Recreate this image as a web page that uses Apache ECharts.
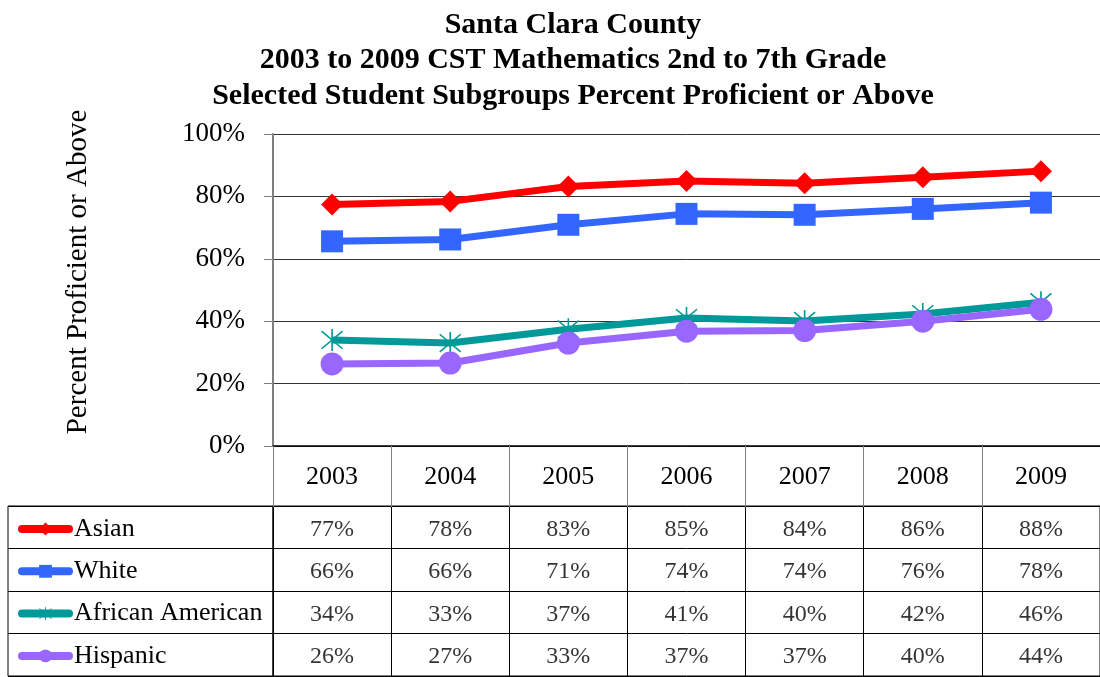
<!DOCTYPE html>
<html>
<head>
<meta charset="utf-8">
<script src="https://cdn.jsdelivr.net/npm/echarts@6/dist/echarts.min.js"></script>
<style>
  html, body { margin: 0; padding: 0; background: #fff; }
  #chart { width: 1100px; height: 677px; }
</style>
</head>
<body>
<div id="chart"></div>
<script>
// Data (percent proficient or above)
const years = ['2003', '2004', '2005', '2006', '2007', '2008', '2009']
const groups = ['Asian', 'White', 'African American', 'Hispanic']
const asian = [77.4, 78.4, 83.2, 84.9, 84.2, 86.1, 88.1]
const white = [65.6, 66.2, 70.9, 74.4, 74.1, 76.0, 78.0]
const africanAmerican = [34.0, 33.0, 37.4, 41.0, 40.1, 42.3, 46.1]
const hispanic = [26.3, 26.6, 33.0, 36.8, 37.0, 40.0, 43.8]

const FONT = '"Liberation Serif", "Times New Roman", serif'

// asterisk marker (vertical bar + X), drawn as thin filled bars
const STAR = 'path://M9.3 0L10.7 0L10.7 20L9.3 20Z' +
  'M1.46 1.48L19.46 17.48L18.54 18.52L0.54 2.52Z' +
  'M19.46 2.52L1.46 18.52L0.54 17.48L18.54 1.48Z'

const seriesConfig = [
  { name: 'Asian', data: asian, color: '#FF0000', symbol: 'diamond', size: [22, 22] },
  { name: 'White', data: white, color: '#3366FF', symbol: 'rect', size: 22 },
  { name: 'African American', data: africanAmerican, color: '#009999', symbol: STAR, size: 22 },
  { name: 'Hispanic', data: hispanic, color: '#9966FF', symbol: 'circle', size: 23 }
]

const rows = [asian, white, africanAmerican, hispanic]
const tableCells = []
rows.forEach((vals, r) => vals.forEach((v, c) => tableCells.push([c, r, v])))

const chart = echarts.init(document.getElementById('chart'))

const option = {
  animation: false,
  backgroundColor: '#fff',
  textStyle: { fontFamily: FONT },
  title: {
    text: 'Santa Clara County\n2003 to 2009 CST Mathematics 2nd to 7th Grade\nSelected Student Subgroups Percent Proficient or Above',
    left: 568,
    textAlign: 'center',
    top: 2,
    textStyle: {
      fontFamily: FONT,
      fontSize: 30,
      fontWeight: 'bold',
      lineHeight: 35.5,
      color: '#000'
    }
  },
  legend: {
    orient: 'vertical',
    left: 13,
    top: 511,
    itemWidth: 47,
    itemHeight: 16,
    itemGap: 16.3,
    data: groups,
    lineStyle: { width: 8, cap: 'round' },
    textStyle: { fontFamily: FONT, fontSize: 26, lineHeight: 26, color: '#000' },
    selectedMode: false
  },
  grid: [
    // main plot
    { left: 273, width: 837, top: 134, height: 312 },
    // data table values
    { left: 273, width: 837, top: 506, height: 170, show: true, borderColor: '#000', borderWidth: 1 },
    // legend column of the table
    { left: 8, width: 265, top: 506, height: 170, show: true, borderColor: '#000', borderWidth: 1 }
  ],
  xAxis: [
    {
      gridIndex: 0,
      type: 'category',
      data: years,
      boundaryGap: true,
      axisLine: { lineStyle: { color: '#000', width: 1.5 } },
      axisTick: { show: true, interval: 0, length: 61, lineStyle: { color: '#808080' } },
      axisLabel: { interval: 0, margin: 18, fontFamily: FONT, fontSize: 26, lineHeight: 26, color: '#000' }
    },
    {
      gridIndex: 1,
      type: 'category',
      data: years,
      boundaryGap: true,
      axisLine: { show: false },
      axisTick: { show: false },
      axisLabel: { show: false },
      splitLine: { show: true, interval: 0, lineStyle: { color: '#000', width: 1 } }
    },
    {
      gridIndex: 2,
      type: 'value',
      show: false
    }
  ],
  yAxis: [
    {
      gridIndex: 0,
      type: 'value',
      min: 0,
      max: 100,
      interval: 20,
      name: 'Percent Proficient or Above',
      nameLocation: 'middle',
      nameGap: 180,
      nameRotate: 90,
      nameTextStyle: { fontFamily: FONT, fontSize: 29, color: '#000', padding: [0, 0, 0, 36] },
      axisLine: { show: true, lineStyle: { color: '#808080', width: 2 } },
      axisTick: { show: true, length: 9, lineStyle: { color: '#808080' } },
      axisLabel: { formatter: '{value}%', margin: 28, fontFamily: FONT, fontSize: 27, color: '#000' },
      splitLine: { show: true, lineStyle: { color: '#333', width: 1 } }
    },
    {
      gridIndex: 1,
      type: 'category',
      data: groups,
      inverse: true,
      axisLine: { show: false },
      axisTick: { show: false },
      axisLabel: { show: false },
      splitLine: { show: true, interval: 0, lineStyle: { color: '#000', width: 1 } }
    },
    {
      gridIndex: 2,
      type: 'category',
      data: groups,
      inverse: true,
      axisLine: { show: false },
      axisTick: { show: false },
      axisLabel: { show: false },
      splitLine: { show: true, interval: 0, lineStyle: { color: '#000', width: 1 } }
    }
  ],
  series: [
    ...seriesConfig.map(s => ({
      name: s.name,
      type: 'line',
      xAxisIndex: 0,
      yAxisIndex: 0,
      data: s.data,
      symbol: s.symbol,
      symbolSize: s.size,
      showAllSymbol: true,
      itemStyle: { color: s.color },
      lineStyle: { color: s.color, width: 7 }
    })),
    {
      name: 'table',
      type: 'scatter',
      xAxisIndex: 1,
      yAxisIndex: 1,
      data: tableCells,
      symbolSize: 1,
      itemStyle: { color: 'rgba(0,0,0,0)' },
      label: {
        show: true,
        position: 'inside',
        offset: [0, 2],
        formatter: p => Math.round(p.value[2]) + '%',
        fontFamily: FONT,
        fontSize: 24,
        color: '#000'
      },
      silent: true
    }
  ]
}

chart.setOption(option)
</script>
</body>
</html>
